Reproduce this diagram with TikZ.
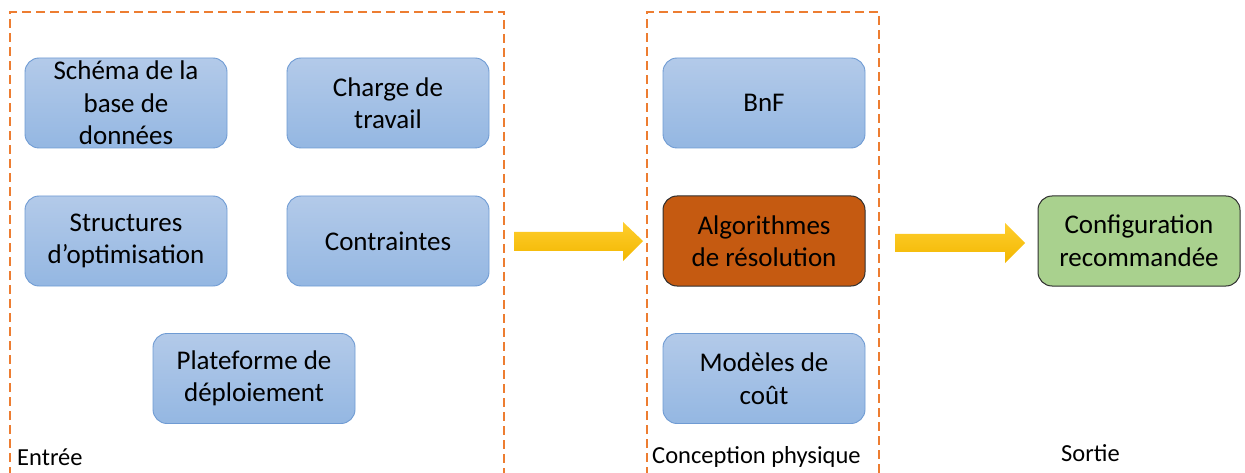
\documentclass[tikz,border=0pt]{standalone}
\usepackage{fontspec}
\setmainfont{Carlito}
\definecolor{dashor}{HTML}{ED7D31}
\definecolor{bluetop}{HTML}{B3CAE9}
\definecolor{bluebot}{HTML}{94B7E2}
\definecolor{blueedge}{HTML}{6F9BD3}
\definecolor{algofill}{HTML}{C55A11}
\definecolor{cfgfill}{HTML}{A9D18E}
\definecolor{darkedge}{HTML}{2F2F2F}
\definecolor{arrtop}{HTML}{FFCE2E}
\definecolor{arrbot}{HTML}{F2B700}
\tikzset{
  box/.style={rounded corners=14pt, minimum width=202pt, minimum height=90pt,
    align=center, font=\fontsize{27}{32.5}\selectfont, inner sep=0pt},
  bluebox/.style={box, draw=blueedge, line width=0.9pt, top color=bluetop, bottom color=bluebot},
  algobox/.style={box, draw=darkedge, line width=1pt, fill=algofill},
  cfgbox/.style={box, draw=darkedge, line width=1pt, fill=cfgfill},
  group/.style={draw=dashor, line width=1.5pt, dash pattern=on 9pt off 5pt},
  grouplabel/.style={font=\fontsize{24.5}{28}\selectfont, inner sep=0pt},
  bigarrow/.style={top color=arrtop, bottom color=arrbot, draw=none}
}
\begin{document}
\begin{tikzpicture}[x=1pt,y=-1pt]
\useasboundingbox (0,0) rectangle (1245,473);
% groups
\draw[group] (10,490) -- (10,12) -- (504,12) -- (504,490);
\draw[group] (647,490) -- (647,12) -- (879,12) -- (879,490);
% boxes
\node[bluebox] (schema) at (126,103) {Schéma de la\\base de\\données};
\node[bluebox] (charge) at (388,103) {Charge de\\travail};
\node[bluebox] (struct) at (126,241) {Structures\\d’optimisation};
\node[bluebox] (contr) at (388,241) {Contraintes};
\node[bluebox] (plat) at (254,378.5) {Plateforme de\\déploiement};
\node[bluebox] (bnf) at (764,103) {BnF};
\node[algobox] (algo) at (764,241) {Algorithmes\\de résolution};
\node[bluebox] (modeles) at (764,378.5) {Modèles de\\coût};
\node[cfgbox] (cfg) at (1139,241) {Configuration\\recommandée};
% arrows
\coordinate (a1s) at (514,241);
\coordinate (a1e) at (643,241);
\path[bigarrow] (514,232) -- (623,232) -- (623,222) -- (a1e) -- (623,261) -- (623,251) -- (514,251) -- cycle;
\coordinate (a2s) at (895,243);
\coordinate (a2e) at (1025,243);
\path[bigarrow] (895,234) -- (1005,234) -- (1005,223) -- (a2e) -- (1005,263) -- (1005,252) -- (895,252) -- cycle;
% labels
\node[grouplabel, anchor=base west] (lin) at (17,465) {Entrée};
\node[grouplabel, anchor=base west] (lcp) at (652,463) {Conception physique};
\node[grouplabel, anchor=base west] (lout) at (1061,461) {Sortie};
\end{tikzpicture}
\end{document}
